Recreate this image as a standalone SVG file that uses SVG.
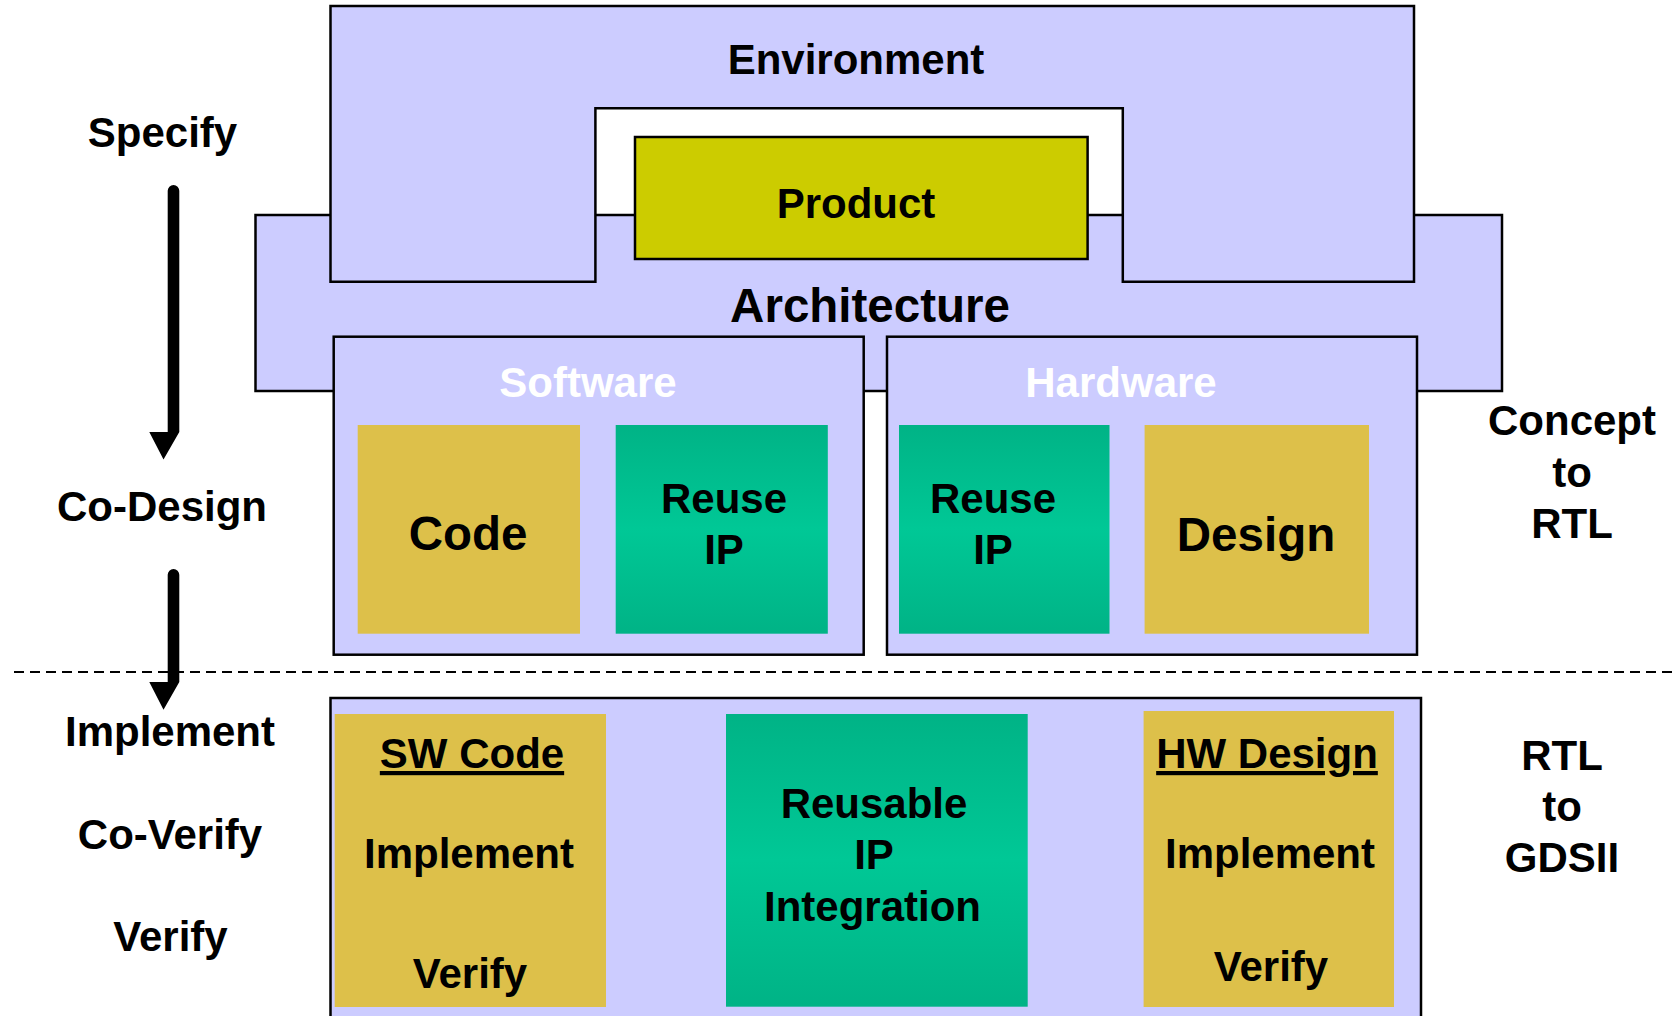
<svg xmlns="http://www.w3.org/2000/svg" width="1673" height="1016" viewBox="0 0 1673 1016">
<style>
.t{font-family:"Liberation Sans",Arial,sans-serif;font-weight:bold;font-size:42px;fill:#000;text-anchor:middle}
.big{font-size:47.5px}
.w{fill:#fff}
.lav{fill:#CCCCFF;stroke:#000;stroke-width:2.5}
.tan{fill:#DDC04A}
.u{text-decoration:underline}
</style>
<defs>
<linearGradient id="grn" x1="0" y1="0" x2="0" y2="1">
<stop offset="0" stop-color="#00B386"/>
<stop offset="0.5" stop-color="#00C896"/>
<stop offset="1" stop-color="#00B386"/>
</linearGradient>
</defs>
<rect width="1673" height="1016" fill="#fff"/>

<g id="architecture">
<rect class="lav" x="255.5" y="215" width="1246.5" height="176"/>
<text class="t" style="font-size:47.5px" x="870" y="322">Architecture</text>
</g>

<g id="environment">
<path class="lav" d="M330.5,6 H1414 V281.7 H1122.8 V108.3 H595.4 V281.7 H330.5 Z"/>
<text class="t" x="856" y="74">Environment</text>
</g>

<g id="product">
<rect x="635" y="137" width="452.6" height="122" fill="#CCCC00" stroke="#000" stroke-width="2.5"/>
<text class="t" x="856" y="218">Product</text>
</g>

<g id="software">
<rect class="lav" x="333.7" y="336.7" width="530" height="318"/>
<text class="t w" x="588" y="397">Software</text>
</g>
<g id="sw-code">
<rect class="tan" x="357.7" y="425" width="222.3" height="208.7"/>
<text class="t big" x="468" y="550">Code</text>
</g>
<g id="sw-reuse-ip">
<rect x="615.7" y="425" width="212.1" height="208.7" fill="url(#grn)"/>
<text class="t" x="724" y="513">Reuse</text>
<text class="t" x="724" y="564">IP</text>
</g>

<g id="hardware">
<rect class="lav" x="887" y="336.7" width="530" height="318"/>
<text class="t w" x="1121" y="397">Hardware</text>
</g>
<g id="hw-reuse-ip">
<rect x="899" y="425" width="210.5" height="208.7" fill="url(#grn)"/>
<text class="t" x="993" y="513">Reuse</text>
<text class="t" x="993" y="564">IP</text>
</g>
<g id="hw-design">
<rect class="tan" x="1144.6" y="425" width="224.4" height="208.7"/>
<text class="t big" x="1256" y="551">Design</text>
</g>

<g id="implementation">
<rect class="lav" x="330.5" y="698" width="1090.5" height="330"/>
</g>
<g id="sw-code-impl">
<rect class="tan" x="334.7" y="714" width="271.3" height="293"/>
<text class="t u" x="472" y="768">SW Code</text>
<text class="t" x="469" y="868">Implement</text>
<text class="t" x="470" y="988">Verify</text>
</g>
<g id="reusable-ip">
<rect x="726" y="714" width="301.7" height="292.7" fill="url(#grn)"/>
<text class="t" x="874" y="818">Reusable</text>
<text class="t" x="874" y="869">IP</text>
<text class="t" x="872.5" y="920.5">Integration</text>
</g>
<g id="hw-design-impl">
<rect class="tan" x="1143.6" y="711" width="250.4" height="296"/>
<text class="t u" x="1267" y="768">HW Design</text>
<text class="t" x="1270" y="868">Implement</text>
<text class="t" x="1271" y="981">Verify</text>
</g>

<g id="labels">
<text class="t" x="162.5" y="147">Specify</text>
<text class="t" x="162" y="521">Co-Design</text>
<text class="t" x="170" y="746">Implement</text>
<text class="t" x="170" y="849">Co-Verify</text>
<text class="t" x="170.5" y="951">Verify</text>
<text class="t" x="1572" y="435">Concept</text>
<text class="t" x="1572" y="487">to</text>
<text class="t" x="1572" y="538">RTL</text>
<text class="t" x="1562" y="770">RTL</text>
<text class="t" x="1562" y="821">to</text>
<text class="t" x="1562" y="872">GDSII</text>
</g>

<g id="connectors">
<line x1="14" y1="672" x2="1673" y2="672" stroke="#000" stroke-width="2" stroke-dasharray="10,6"/>
<path d="M167.7,432 V190.8 A5.8,5.8 0 0 1 179.3,190.8 V432 Z M149.3,432 H179.3 L163.5,459.5 Z" fill="#000"/>
<path d="M167.7,682 V574.8 A5.8,5.8 0 0 1 179.3,574.8 V682 Z M149.3,682 H179.3 L163.5,709.7 Z" fill="#000"/>
</g>
</svg>
